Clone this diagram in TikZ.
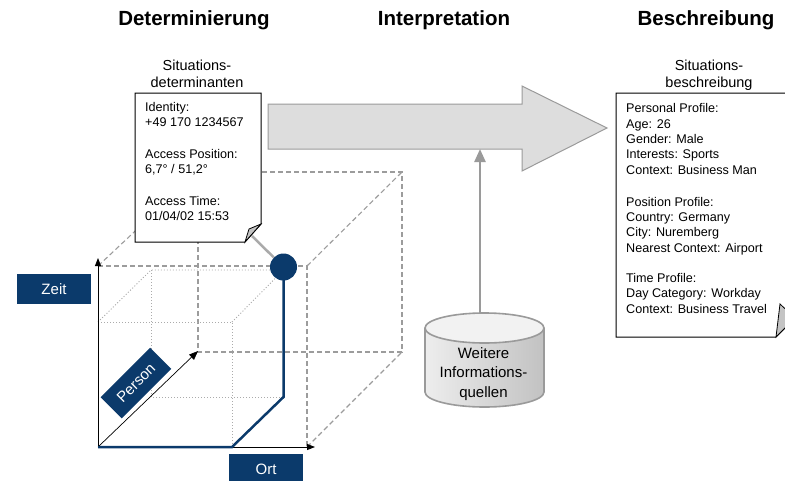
\documentclass[tikz,border=0pt]{standalone}
\usepackage{fontspec}
\setmainfont{Liberation Sans}
\usetikzlibrary{arrows.meta,calc}
\definecolor{navy}{HTML}{0B3A6B}
\definecolor{dashgray}{HTML}{9C9C9C}
\definecolor{dotgray}{HTML}{ABABAB}
\definecolor{arrowfill}{HTML}{DDDDDD}
\definecolor{arrowline}{HTML}{9A9A9A}
\definecolor{foldgray}{HTML}{C4C4C4}
\definecolor{linkgray}{HTML}{AAAAAA}
\tikzset{
  cubedash/.style={draw=dashgray, dash pattern=on 5pt off 3pt, line width=1.1pt},
  cubedot/.style={draw=dotgray, dash pattern=on 1pt off 2pt, line width=0.9pt},
  axisline/.style={draw=black, line width=0.9pt, -{Triangle[length=8pt,width=6pt]}},
  personline/.style={draw=black, line width=0.7pt, -{Triangle[length=9pt,width=7pt]}},
  bluepath/.style={draw=navy, line width=2.5pt, line join=miter},
  navybox/.style={fill=navy, text=white, font=\fontsize{15}{18}\selectfont, minimum width=74pt, minimum height=30pt, inner sep=0pt},
  noteshape/.style={draw=black, fill=white, line width=1pt, line join=miter},
  foldshape/.style={draw=black, fill=foldgray, line width=0.8pt},
  notetext/.style={font=\fontsize{12.6}{15}\selectfont, align=left, inner sep=0pt, anchor=north west},
  righttext/.style={font=\fontsize{12.6}{15.3}\selectfont, align=left, inner sep=0pt, anchor=north west},
  titletext/.style={font=\fontsize{14.5}{16.5}\selectfont, align=center, inner sep=0pt},
  header/.style={font=\bfseries\fontsize{20.5}{24}\selectfont, inner sep=0pt},
  bigarrow/.style={draw=arrowline, fill=arrowfill, line width=1pt, line join=miter},
  infoarrow/.style={draw=arrowline, line width=2.4pt, -{Triangle[length=13pt,width=11pt]}},
  linkline/.style={draw=linkgray, line width=2.5pt},
  cyltext/.style={font=\fontsize{15}{19.5}\selectfont, align=center, inner sep=0pt},
}
\begin{document}
\begin{tikzpicture}[x=1pt,y=-1pt]
\useasboundingbox (0,0) rectangle (785,480);
\clip (0,0) rectangle (785,480);

% headers
\node[header] (hdet) at (194,20) {Determinierung};
\node[header] (hint) at (444,20) {Interpretation};
\node[header] (hbes) at (706,20) {Beschreibung};

% cube coordinates
\coordinate (O) at (98,447);
\coordinate (zeitend) at (98,258);
\coordinate (ortend) at (315,447);
\coordinate (personend) at (198,351);
\coordinate (ftl) at (98,266);
\coordinate (ftr) at (307,266);
\coordinate (fbr) at (307,447);
\coordinate (btl) at (198,172);
\coordinate (btr) at (402,172);
\coordinate (bbr) at (402,352);
\coordinate (bbl) at (198,352);

% dashed cube
\draw[cubedash] (ftl) -- (ftr) -- (fbr);
\draw[cubedash] (btl) -- (btr) -- (bbr) -- (bbl) -- cycle;
\draw[cubedash] (ftl) -- (btl);
\draw[cubedash] (ftr) -- (btr);
\draw[cubedash] (fbr) -- (bbr);

% dotted inner box
\draw[cubedot] (98,322) -- (232,322) -- (232,447);
\draw[cubedot] (98,322) -- (151,270) -- (283.5,270);
\draw[cubedot] (232,322) -- (283.5,270);
\draw[cubedot] (151,270) -- (151,397) -- (283.5,397);

% axes
\draw[axisline] (O) -- (zeitend);
\draw[axisline] (O) -- (ortend);
\draw[personline] (O) -- (personend);

% blue path and point
\coordinate (bend1) at (232,447);
\coordinate (bend2) at (283.5,397);
\coordinate (dotc) at (283.5,267);
\draw[bluepath] (O) -- (bend1) -- (bend2) -- (dotc);
\node[circle, fill=navy, minimum size=27pt, inner sep=0pt] (dot) at (dotc) {};

% axis labels
\node[navybox] (zeit) at (54,289) {Zeit};
\node[navybox] (ort) at (266,469) {Ort};
\node[navybox, minimum width=70pt, rotate=45] (person) at (136,383) {Person};

% left note
\node[titletext] (dettitle) at (197,74) {Situations-\\determinanten};
\draw[noteshape] (135,93) -- (261,93) -- (261,224) -- (245,242) -- (135,242) -- cycle;
\draw[foldshape] (245,242) -- (249,229) -- (261,224) -- cycle;
\coordinate (detfold) at (252,236);
\draw[linkline] (detfold) -- (dot);
\node[notetext] (dettext) at (145,102.5) {Identity:\\+49 170 1234567\\[17pt]Access Position:\\6,7° / 51,2°\\[17pt]Access Time:\\01/04/02 15:53};

% big arrow
\draw[bigarrow] (268,104) -- (522,104) -- (522,86) -- (607,128) -- (522,171) -- (522,149) -- (268,149) -- cycle;
\coordinate (shaftbot) at (480,149);

% database cylinder
\shade[left color=gray!14, right color=gray!48] (425,328) -- (425,392) arc[start angle=180, end angle=0, x radius=59.5, y radius=15] -- (544,328) arc[start angle=0, end angle=-180, x radius=59.5, y radius=15] -- cycle;
\draw[draw=arrowline, line width=1.6pt] (425,328) -- (425,392) arc[start angle=180, end angle=0, x radius=59.5, y radius=15] -- (544,328);
\filldraw[draw=arrowline, fill=gray!10, line width=1.6pt] (484.5,328) ellipse [x radius=59.5, y radius=15];
\coordinate (dbtop) at (480,313);
\node[cyltext] (dbtext) at (483.5,374) {Weitere\\Informations-\\quellen};
\draw[infoarrow] (dbtop) -- (shaftbot);

% right note
\node[titletext] (bestitle) at (709,75) {Situations-\\beschreibung};
\draw[noteshape] (616,93) -- (795,93) -- (795,318) -- (776,337) -- (616,337) -- cycle;
\draw[foldshape] (776,337) -- (780,304) -- (795,318) -- cycle;
\node[righttext] (bestext) at (626,103.5) {Personal Profile:\\Age: 26\\Gender: Male\\Interests: Sports\\Context: Business Man\\[17pt]Position Profile:\\Country: Germany\\City: Nuremberg\\Nearest Context: Airport\\[15pt]Time Profile:\\Day Category: Workday\\Context: Business Travel};
\end{tikzpicture}
\end{document}
